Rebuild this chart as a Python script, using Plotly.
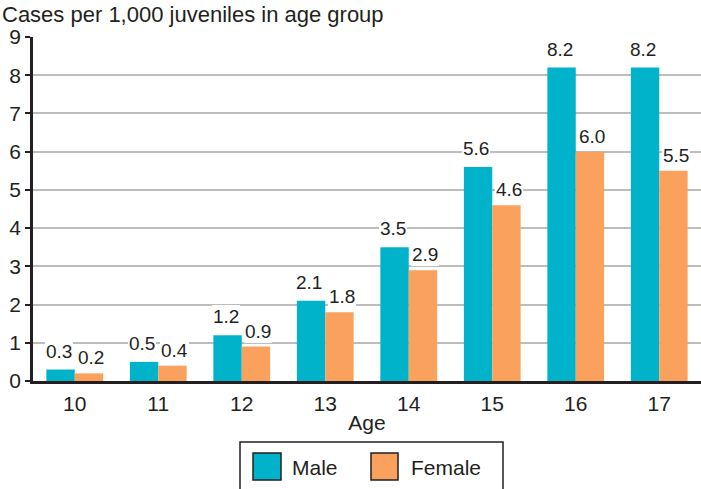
import plotly.graph_objects as go

ages = ["10", "11", "12", "13", "14", "15", "16", "17"]
male = [0.3, 0.5, 1.2, 2.1, 3.5, 5.6, 8.2, 8.2]
female = [0.2, 0.4, 0.9, 1.8, 2.9, 4.6, 6.0, 5.5]
y_ticks = [0, 1, 2, 3, 4, 5, 6, 7, 8, 9]
series_names = ["Male", "Female"]

W, H = 701, 489
ML, MR, MT, MB = 33, 0, 37, 108
PW, PH = W - ML - MR, H - MT - MB

TEAL = "#00B3CA"
ORANGE = "#F9A15D"
INK = "#231F20"
FONT = "Liberation Sans, Arial, Helvetica, sans-serif"


def px_x(p):
    return (p - ML) / PW


def px_y(p):
    return (H - MB - p) / PH


fig = go.Figure()
fig.add_trace(go.Bar(x=ages, y=male, name=series_names[0], marker=dict(color=TEAL, line=dict(width=0)), showlegend=False))
fig.add_trace(go.Bar(x=ages, y=female, name=series_names[1], marker=dict(color=ORANGE, line=dict(width=0)), showlegend=False))

cat_px = PW / len(ages)
bargap = 0.32
bar_px = cat_px * (1 - bargap) / 2

annotations = []
for i, (m, f) in enumerate(zip(male, female)):
    for val, xs, ys in ((m, -bar_px / 2 - 2, 7), (f, bar_px / 2 + 2.5, 4)):
        annotations.append(dict(
            x=i, y=val, xref="x", yref="y", text=f"{val:.1f}", showarrow=False,
            xanchor="center", yanchor="bottom", xshift=xs, yshift=ys,
            bgcolor="white", borderpad=1, borderwidth=0,
            font=dict(family=FONT, size=19, color=INK),
        ))

# manual legend
shapes = [
    dict(type="rect", xref="paper", yref="paper", x0=px_x(240), x1=px_x(503), y0=px_y(442), y1=px_y(495),
         line=dict(color=INK, width=1.5), fillcolor="white", layer="above"),
    dict(type="rect", xref="paper", yref="paper", x0=px_x(253), x1=px_x(281), y0=px_y(453), y1=px_y(480),
         line=dict(color=INK, width=1.5), fillcolor=TEAL, layer="above"),
    dict(type="rect", xref="paper", yref="paper", x0=px_x(371), x1=px_x(398), y0=px_y(453), y1=px_y(480),
         line=dict(color=INK, width=1.5), fillcolor=ORANGE, layer="above"),
]
for name, left in zip(series_names, (292, 411)):
    annotations.append(dict(
        x=px_x(left), y=px_y(467), xref="paper", yref="paper", text=name, showarrow=False,
        xanchor="left", yanchor="middle", borderpad=0, borderwidth=0,
        font=dict(family=FONT, size=21, color=INK),
    ))

fig.update_layout(
    width=W, height=H,
    margin=dict(l=ML, r=MR, t=MT, b=MB, pad=0),
    paper_bgcolor="white", plot_bgcolor="white",
    barmode="group", bargap=bargap, bargroupgap=0,
    font=dict(family=FONT, size=21, color=INK),
    title=dict(text="Cases per 1,000 juveniles in age group", xref="container", yref="container",
               x=2 / W, xanchor="left", y=1 - 14 / H, yanchor="middle",
               font=dict(family=FONT, size=22, color=INK)),
    xaxis=dict(
        type="category", range=[-0.5, len(ages) - 0.5],
        showline=True, linecolor=INK, linewidth=2.5, ticks="", showgrid=False,
        tickfont=dict(family=FONT, size=21, color=INK), ticklabelstandoff=2,
        title=dict(text="Age", font=dict(family=FONT, size=21, color=INK), standoff=2),
    ),
    yaxis=dict(
        range=[0, 9], tickvals=y_ticks, ticktext=[str(v) for v in y_ticks],
        showline=True, linecolor=INK, linewidth=2.5,
        ticks="outside", ticklen=5, tickwidth=2, tickcolor=INK,
        showgrid=True, gridcolor="#BDBDBD", gridwidth=2, zeroline=False,
        tickfont=dict(family=FONT, size=21, color=INK), ticklabelstandoff=0,
    ),
    shapes=shapes,
    annotations=annotations,
)

fig.write_html("out.html", config={"displayModeBar": False},
               post_script="document.body.style.margin='0';document.body.style.padding='0';")
